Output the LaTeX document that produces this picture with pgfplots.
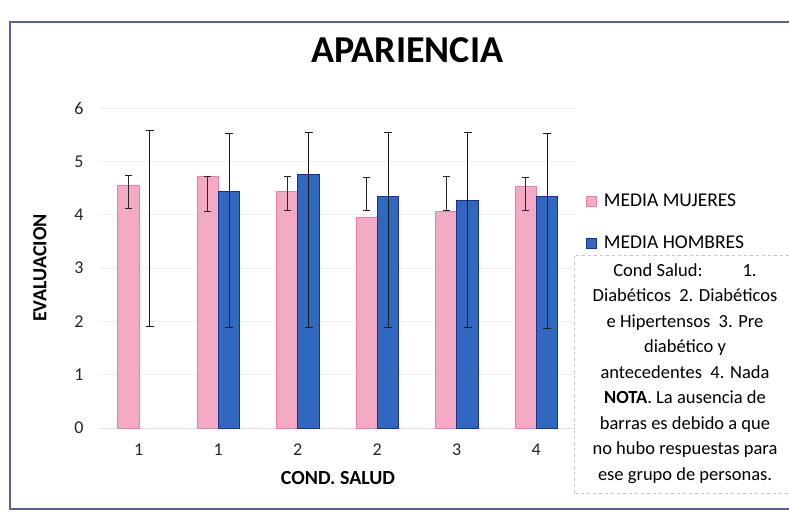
\documentclass[border=0pt]{standalone}
\usepackage{pgfplots}
\pgfplotsset{compat=1.18}
\usepackage{fontspec}
\setmainfont{Carlito}
\definecolor{pinkfill}{RGB}{243,170,197}
\definecolor{pinkedge}{RGB}{228,130,168}
\definecolor{bluefill}{RGB}{47,104,190}
\definecolor{blueedge}{RGB}{28,48,140}
\definecolor{framec}{RGB}{95,95,150}
\begin{document}
\begin{tikzpicture}[x=1pt,y=1pt]
\useasboundingbox (0,0) rectangle (789,515);
\clip (0,0) rectangle (789,515);
\fill[white] (0,0) rectangle (789,515);
\draw[framec, line width=1.1pt] (10,6) rectangle (830,493);
\draw[gray!45, dashed, line width=0.6pt] (574,22) rectangle (830,260);
\begin{axis}[
  at={(99pt,87pt)}, anchor=south west,
  scale only axis, width=477pt, height=320pt,
  xmin=-0.5, xmax=5.5, ymin=0, ymax=6,
  ytick={0,1,2,3,4,5,6},
  xtick={0,1,2,3,4,5}, xticklabels={1,1,2,2,3,4},
  axis line style={draw=none},
  major tick length=0pt,
  ymajorgrids, grid style={gray!12, line width=0.5pt},
  /pgf/number format/assume math mode=true,
  tick label style={font=\fontsize{18}{18}\selectfont, text=black!85},
  xticklabel style={yshift=-12pt},
  yticklabel style={xshift=-12pt},
  ybar, bar width=21.5pt,
  title={APARIENCIA},
  title style={at={(axis description cs:0.646,1.1625)}, anchor=center, font=\fontsize{38}{38}\selectfont\bfseries},
  xlabel={COND. SALUD},
  xlabel style={at={(axis description cs:0.501,-0.156)}, anchor=center, font=\fontsize{20}{20}\selectfont\bfseries},
  ylabel={EVALUACION},
  ylabel style={at={(axis description cs:-0.1237,0.5)}, anchor=center, rotate=0, font=\fontsize{20}{20}\selectfont\bfseries},
  legend style={at={(axis description cs:1.015,0.745)}, anchor=north west, draw=none, fill=none,
     font=\fontsize{19.5}{19.5}\selectfont, row sep=24pt, column sep=5pt, legend cell align=left},
  legend image code/.code={\draw[#1, line width=0.6pt] (0pt,-5pt) rectangle (10pt,5pt);},
  clip=false,
]
\draw[gray!25, line width=0.6pt] (axis cs:-0.5,0) -- (axis cs:5.5,0);
% Pink bars: MEDIA MUJERES
\addplot[fill=pinkfill, draw=pinkedge, line width=0.5pt, bar shift=-10.75pt] coordinates
  {(0,4.56) (1,4.72) (2,4.43) (3,3.96) (4,4.06) (5,4.53)};
\addlegendentry{MEDIA MUJERES}
% Blue bars: MEDIA HOMBRES
\addplot[fill=bluefill, draw=blueedge, line width=0.8pt, bar shift=10.75pt] coordinates
  {(1,4.44) (2,4.76) (3,4.35) (4,4.26) (5,4.34)};
\addlegendentry{MEDIA HOMBRES}
% error bars (pink series), centre +- half range
\addplot[draw=none, fill=none, bar shift=-10.75pt, forget plot,
  error bars/.cd, y dir=both, y explicit,
  error bar style={black!85, line width=1pt},
  error mark options={rotate=90, mark size=3.5pt, black!85, line width=1pt}]
  coordinates {
  (0,4.425) +- (0,0.315)
  (1,4.39) +- (0,0.33)
  (2,4.39) +- (0,0.32)
  (3,4.385) +- (0,0.315)
  (4,4.395) +- (0,0.315)
  (5,4.38) +- (0,0.31)
  };
% error bars (blue series)
\addplot[draw=none, fill=none, bar shift=10.75pt, forget plot,
  error bars/.cd, y dir=both, y explicit,
  error bar style={black!90, line width=1pt},
  error mark options={rotate=90, mark size=4pt, black!90, line width=1pt}]
  coordinates {
  (0,3.74) +- (0,1.83)
  (1,3.705) +- (0,1.825)
  (2,3.715) +- (0,1.825)
  (3,3.715) +- (0,1.825)
  (4,3.715) +- (0,1.825)
  (5,3.69) +- (0,1.83)
  };
\end{axis}
\node[align=center, font=\fontsize{18.5}{25.5}\selectfont, inner sep=0pt] at (685,141.5)
 {Cond Salud:\hspace{40pt}1.\\
  Diabéticos\ \ 2. Diabéticos\\
  e Hipertensos\ \ 3. Pre\\
  diabético y\\
  antecedentes\ \ 4. Nada\\
  \textbf{NOTA}. La ausencia de\\
  barras es debido a que\\
  no hubo respuestas para\\
  ese grupo de personas.};
\end{tikzpicture}
\end{document}
